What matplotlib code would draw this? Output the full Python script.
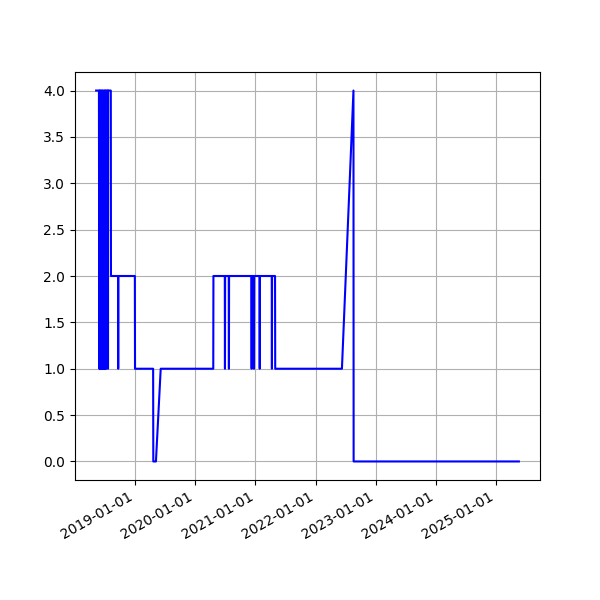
import pandas as pd
import matplotlib
matplotlib.use("Agg")
import matplotlib.pyplot as plt
import matplotlib.dates as mdates

# (date, value) pairs
dates = [
    "2018-05-10", "2018-05-27", "2018-05-29", "2018-05-31", "2018-06-03",
    "2018-06-05", "2018-06-08", "2018-06-10", "2018-06-13", "2018-06-16",
    "2018-06-19", "2018-06-21", "2018-06-24", "2018-06-27", "2018-06-30",
    "2018-07-02", "2018-07-05", "2018-07-07", "2018-07-10", "2018-07-12",
    "2018-07-20", "2018-07-21", "2018-07-22", "2018-08-07", "2018-08-08",
    "2018-09-20", "2018-09-21", "2018-09-22", "2018-12-31", "2019-01-01",
    "2019-04-21", "2019-04-22", "2019-05-08", "2019-06-06", "2020-04-20",
    "2020-04-21", "2020-06-29", "2020-06-30", "2020-07-01", "2020-07-23",
    "2020-07-24", "2020-07-25", "2020-12-08", "2020-12-09", "2020-12-10",
    "2020-12-22", "2020-12-23", "2020-12-24", "2021-01-26", "2021-01-27",
    "2021-01-28", "2021-04-10", "2021-04-11", "2021-04-12", "2021-04-30",
    "2021-05-01", "2022-06-10", "2022-08-19", "2022-08-20", "2025-05-19",
]
values = [
    4, 4, 1, 4, 1,
    4, 1, 4, 1, 4,
    1, 4, 1, 4, 1,
    4, 1, 4, 1, 4,
    4, 1, 4, 4, 2,
    2, 1, 2, 2, 1,
    1, 0, 0, 1, 1,
    2, 2, 1, 2, 2,
    1, 2, 2, 1, 2,
    2, 1, 2, 2, 1,
    2, 2, 1, 2, 2,
    1, 1, 4, 0, 0,
]

fig, ax = plt.subplots(figsize=(6, 6))
ax.plot(pd.to_datetime(dates), values, color="blue")
ax.xaxis.set_major_locator(mdates.YearLocator())
ax.xaxis.set_major_formatter(mdates.DateFormatter("%Y-%m-%d"))
ax.grid(True)
fig.autofmt_xdate()
plt.savefig("out.png", dpi=100)
plt.close()
